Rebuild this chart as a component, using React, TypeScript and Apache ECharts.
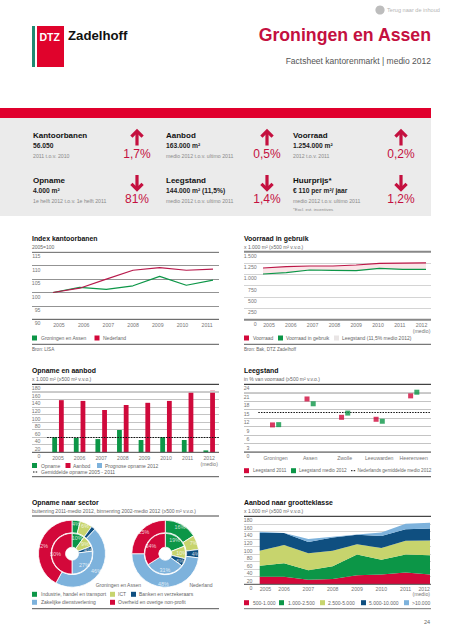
import React, { useEffect, useRef } from "react";
import * as echarts from "echarts";

const FONT = "Liberation Sans";
const RED = "#d3083a";
const BARRED = "#cf0a3c";
const TITLERED = "#c4103f";
const GREEN = "#0c9647";
const ICT = "#c7d46d";
const NAVY = "#0f4f80";
const BLUE = "#7db2dc";
const PINK = "#f9dade";
const GREY = "#767676";

const indexYears = ["2005", "2006", "2007", "2008", "2009", "2010", "2011"];
const indexGroningen = [100, 101.9, 101.2, 102.5, 106, 102.7, 104.6];
const indexNederland = [100, 101.6, 105, 108.3, 109.3, 108.3, 108.7];

const stockYears = ["2005", "2006", "2007", "2008", "2009", "2010", "2011", "2012\n(medio)"];
const stockTotal = [1140, 1170, 1185, 1185, 1207, 1244, 1250, 1254];
const stockInUse = [1008, 1037, 1096, 1089, 1081, 1133, 1111, 1110];

const opname = [40, 38, 35, 59, 32.5, 40, 32.5, 5];
const aanbod = [138, 136, 112, 125, 131, 136, 162, 163];
const opnameAverage = 40;

const cities = ["Groningen", "Assen", "Zwolle", "Leeuwarden", "Heerenveen"];
const vacancy2011 = [9.6, 18.8, 12.3, 11.6, 19.9];
const vacancy2012 = [9.7, 17.1, 13.8, 10.9, 21.2];
const vacancyNl = 14.2;

const sectors = ["Industrie, handel en transport", "ICT", "Banken en verzekeraars", "Zakelijke dienstverlening", "Overheid en overige non-profit"];
const sectorColors = [GREEN, ICT, NAVY, BLUE, RED];
const groningenOuter = [4, 6, 2, 46, 42];
const groningenInner = [10, 9, 4, 27, 50];
const nederlandOuter = [16, 7, 4, 48, 25];
const nederlandInner = [19, 10, 6, 31, 34];

const sizeNames = ["500-1.000", "1.000-2.500", "2.500-5.000", "5.000-10.000", ">10.000"];
const size500 = [20, 20, 12, 14, 24, 26, 31, 26];
const size1000 = [29, 36, 25, 34, 55, 39, 48, 51];
const size2500 = [40, 48, 45, 41, 27, 31, 36, 39];
const size5000 = [47, 32, 30, 35, 25, 32, 31, 32];
const size10000 = [3, 0, 8, 2, 1, 9, 14, 15];

const LX = 32, RX = 244, LW = 187;

const graphics: any[] = [];
const T = (x: number, y: number, text: string, size: number, fill = GREY, fontWeight: any = "normal", align: any = "left") =>
  graphics.push({ type: "text", x, y, silent: true, style: { text, fill, font: `${fontWeight} ${size}px "${FONT}"`, align, verticalAlign: "middle" } });
const R = (x: number, y: number, w: number, h: number, fill: string) =>
  graphics.push({ type: "rect", silent: true, shape: { x, y, width: w, height: h }, style: { fill } });
const L = (x1: number, y: number, x2: number, stroke: string, lineWidth = 1, lineDash?: number[]) =>
  graphics.push({ type: "line", silent: true, z: 5, shape: { x1, y1: y, x2, y2: y }, style: { stroke, lineWidth, lineDash } });
const swatch = (x: number, y: number, color: string, label: string, tx: number, size = 5) => {
  R(x, y - 2.5, 5, 5, color);
  T(tx, y, label, size, "#666");
};
const arrow = (x: number, top: number, up: boolean) => {
  const h = 15.5, tip = up ? top : top + h, dir = up ? 1 : -1;
  graphics.push({ type: "line", silent: true, shape: { x1: x, y1: tip + dir * 2, x2: x, y2: tip + dir * h }, style: { stroke: TITLERED, lineWidth: 3.2 } });
  graphics.push({ type: "polyline", silent: true, shape: { points: [[x - 5.6, tip + dir * 6.6], [x, tip + dir * 1], [x + 5.6, tip + dir * 6.6]] }, style: { stroke: TITLERED, lineWidth: 3.2, fill: "none" } });
};
const kpi = (x: number, y: number, head: string, val: string, note: string, ax: number, pct: string, up: boolean) => {
  T(x, y, head, 8, "#111", "bold");
  T(x, y + 10.5, val, 6.7, "#222", "bold");
  T(x, y + 21, note, 5.2, "#8a8a8a");
  arrow(ax, y - 5, up);
  T(ax, y + 19, pct, 12, TITLERED, "normal", "center");
};
const heading = (x: number, y: number, title: string, sub: string) => {
  T(x, y, title, 6.9, "#111", "bold");
  T(x, y + 8.6, sub, 5, "#666");
};

R(32, 26, 3, 41, "#1f8a72");
R(37, 26, 27, 41, "#e0032c");
T(39.5, 37, "DTZ", 10.5, "#fff", "bold");
T(68, 35.5, "Zadelhoff", 13.2, "#111", "bold");
T(431, 35, "Groningen en Assen", 17.7, TITLERED, "bold", "right");
T(431, 61, "Factsheet kantorenmarkt | medio 2012", 8.5, "#555", "normal", "right");
graphics.push({ type: "circle", silent: true, shape: { cx: 380, cy: 10, r: 4.6 }, style: { fill: "#bdbdbd" } });
T(387, 10, "Terug naar de inhoud", 5.6, "#b5b5b5");

R(0, 108, 431, 10, "#e0002d");
R(0, 118, 431, 98, "#ebebeb");
kpi(33, 135, "Kantoorbanen", "56.050", "2011 t.o.v. 2010", 137, "1,7%", true);
kpi(166, 135, "Aanbod", "163.000 m²", "medio 2012 t.o.v. ultimo 2011", 267, "0,5%", true);
kpi(293, 135, "Voorraad", "1.254.000 m²", "2012 t.o.v. 2011", 401, "0,2%", true);
kpi(33, 180, "Opname", "4.000 m²", "1e helft 2012 t.o.v. 1e helft 2011", 137, "81%", false);
kpi(166, 180, "Leegstand", "144.000 m² (11,5%)", "medio 2012 t.o.v. ultimo 2011", 267, "1,4%", false);
kpi(293, 180, "Huurprijs*", "€ 110 per m²/ jaar", "medio 2012 t.o.v. ultimo 2011", 401, "1,2%", false);
T(293, 209, "*Excl. evt. incentives", 4.4, "#8a8a8a");

heading(LX, 238, "Index kantoorbanen", "2005=100");
swatch(LX, 338, GREEN, "Groningen en Assen", 41);
swatch(94.5, 338, RED, "Nederland", 103);
L(LX, 344.3, LX + LW, "#444", 0.9);
T(LX, 349.3, "Bron: LISA", 4.6, "#666");

heading(RX, 238, "Voorraad in gebruik", "x 1.000 m² (≥500 m² v.v.o.)");
swatch(RX, 338, RED, "Voorraad", 253);
swatch(278, 338, GREEN, "Voorraad in gebruik", 286);
swatch(334, 338, "#e9e5e5", "Leegstand (11,5% medio 2012)", 342);
L(RX, 344.3, RX + LW, "#444", 0.9);
T(RX, 349.3, "Bron: Bak, DTZ Zadelhoff", 4.6, "#666");

heading(LX, 370, "Opname en aanbod", "x 1.000 m² (≥500 m² v.v.o.)");
swatch(LX, 465.5, GREEN, "Opname", 41);
swatch(65.5, 465.5, RED, "Aanbod", 73);
swatch(97, 465.5, BLUE, "Prognose opname 2012", 105);
L(33, 472, 38, "#111", 1, [1.5, 1.2]);
T(41, 472, "Gemiddelde opname 2005 - 2011", 5, "#666");
L(LX, 476.7, LX + LW, "#555", 1);

heading(RX, 370, "Leegstand", "in % van voorraad (≥500 m² v.v.o.)");
swatch(RX, 470.7, RED, "Leegstand 2011", 253, 4.7);
swatch(291, 470.7, GREEN, "Leegstand medio 2012", 299, 4.7);
L(351, 470.7, 356, "#111", 1, [1.5, 1.2]);
T(357.5, 470.7, "Nederlands gemiddelde medio 2012", 4.6, "#666");
L(RX, 476.7, RX + LW, "#666", 1.2);

heading(LX, 502.3, "Opname naar sector", "buitenring 2011-medio 2012, binnenring 2002-medio 2012 (≥500 m² v.v.o.)");
L(LX, 516, LX + LW, "#444", 1);
T(141, 585, "Groningen en Assen", 5, "#666", "normal", "right");
T(212.5, 585, "Nederland", 5, "#666", "normal", "right");
swatch(LX, 594.3, GREEN, sectors[0], 41);
swatch(110, 594.3, ICT, sectors[1], 118);
swatch(131, 594.3, NAVY, sectors[2], 139);
swatch(LX, 602.3, BLUE, sectors[3], 41);
swatch(110, 602.3, RED, sectors[4], 118);
L(LX, 608.7, LX + LW, "#555", 1);

heading(RX, 502.3, "Aanbod naar grootteklasse", "x 1.000 m² (≥500 m² v.v.o.)");
swatch(RX, 602.7, RED, sizeNames[0], 253);
swatch(279, 602.7, GREEN, sizeNames[1], 288);
swatch(320, 602.7, ICT, sizeNames[2], 328);
swatch(361, 602.7, NAVY, sizeNames[3], 369);
swatch(404, 602.7, BLUE, sizeNames[4], 412);
L(RX, 608.7, RX + LW, "#777", 1);
T(430, 622, "24", 5.5, "#666", "normal", "right");

L(LX, 252.3, LX + LW, "#777", 0.9);
L(LX, 319.3, LX + LW, "#666", 1);
L(RX, 251.7, RX + LW, "#888", 2);
L(RX, 319.7, RX + LW, "#888", 2);
L(LX, 384.3, LX + LW, "#222", 1);
L(LX, 391.9, LX + LW, "#ccc", 1.6);
L(LX, 452.3, LX + LW, "#555", 1);
L(RX, 384.3, RX + LW, "#222", 1);
L(RX, 392.7, RX + LW, "#ccc", 1.6);
L(RX, 452, RX + LW, "#555", 1);
L(RX, 516.3, RX + LW, "#222", 1);
L(RX, 584.3, RX + LW, "#555", 1);

const grids: any[] = [];
const xAxes: any[] = [];
const yAxes: any[] = [];
const series: any[] = [];
const dots = (v: number) => String(v).replace(/\B(?=(\d{3})+$)/g, ".");

const hiddenY = (gridIndex: number, min: number, max: number) => ({ gridIndex, type: "value", min, max, show: false });
const catAxisLabel = { fontFamily: FONT, fontSize: 5.2, color: GREY, margin: 3, lineHeight: 5.5, interval: 0, hideOverlap: false };

function frame(left: number, top: number, height: number, min: number, max: number, interval: number, lineColor: string, labelEdge: number, fmt?: (v: number) => string) {
  const g = grids.length;
  grids.push({ left, top, width: LW, height, containLabel: false });
  xAxes.push({ gridIndex: g, type: "value", min: 0, max: 1, show: false });
  yAxes.push({
    gridIndex: g, type: "value", min, max, interval,
    axisLine: { show: false }, axisTick: { show: false },
    splitLine: { show: true, lineStyle: { color: lineColor, width: 0.8 } },
    axisLabel: { inside: true, margin: labelEdge - left, align: "right", verticalAlign: "top", fontFamily: FONT, fontSize: 5.2, color: GREY, padding: [1.5, 0, 0, 0], formatter: fmt },
  });
}
function plot(left: number, width: number, top: number, height: number, min: number, max: number, data: string[], boundaryGap: boolean, showLabels: boolean, extra: any = {}) {
  const g = grids.length;
  grids.push({ left, top, width, height, containLabel: false });
  xAxes.push({
    gridIndex: g, type: "category", data, boundaryGap,
    axisLine: { show: false }, axisTick: { show: false }, splitLine: { show: false },
    axisLabel: { ...catAxisLabel, show: showLabels, ...extra },
  });
  yAxes.push(hiddenY(g, min, max));
  return g;
}
const lineS = (g: number, name: string, data: number[], color: string, extra: any = {}) =>
  series.push({ type: "line", name, xAxisIndex: g, yAxisIndex: g, data, symbol: "none", lineStyle: { color, width: 1.2 }, ...extra });

frame(LX, 252.3, 67, 90, 115, 5, "#777", 40.5);
const g1 = plot(53, 160, 252.3, 67, 90, 115, indexYears, false, false);
lineS(g1, "Groningen en Assen", indexGroningen, GREEN);
lineS(g1, "Nederland", indexNederland, "#b81a4c");
plot(46.6, 172.9, 252.3, 67, 90, 115, indexYears, true, true);

frame(RX, 251.7, 68, 0, 1500, 250, "#c9c9c9", 256.7, dots);
const g2 = plot(263, 163, 251.7, 68, 0, 1500, stockYears, false, false);
lineS(g2, "Basis", stockInUse, "transparent", { stack: "s", lineStyle: { width: 0 }, areaStyle: { color: "transparent" } });
lineS(g2, "Leegstand", stockTotal.map((v, i) => v - stockInUse[i]), "transparent", { stack: "s", lineStyle: { width: 0 }, areaStyle: { color: PINK } });
lineS(g2, "Voorraad", stockTotal, "#bb1646");
lineS(g2, "Voorraad in gebruik", stockInUse, GREEN);
plot(258.1, 174.4, 251.7, 68, 0, 1500, stockYears, true, true);

frame(LX, 384.3, 68, 0, 180, 20, "#b5b5b5", 40.5);
const g3 = plot(47.2, 172.8, 384.3, 68, 0, 180, stockYears, true, true);
series.push({
  type: "bar", name: "Opname", xAxisIndex: g3, yAxisIndex: g3, data: opname, barWidth: 4.8, barGap: "40%", itemStyle: { color: GREEN },
  markLine: { silent: true, symbol: "none", label: { show: false }, lineStyle: { color: "#111", width: 1, type: [1.5, 1.2] }, data: [{ yAxis: opnameAverage }] },
});
series.push({ type: "bar", name: "Aanbod", xAxisIndex: g3, yAxisIndex: g3, data: aanbod, barWidth: 4.8, barGap: "40%", itemStyle: { color: BARRED } });

frame(RX, 384.3, 67.7, 0, 24, 3, "#b5b5b5", 249.5);
const g4 = plot(258.3, 172.7, 384.3, 67.7, 0, 24, cities, true, true);
const sq = (name: string, data: number[], color: string, dx: number, extra: any = {}) =>
  series.push({ type: "scatter", name, xAxisIndex: g4, yAxisIndex: g4, data, symbol: "rect", symbolSize: 5, symbolOffset: [dx, 0], itemStyle: { color }, z: 6, ...extra });
sq("Leegstand 2011", vacancy2011, BARRED, -3.1, {
  markLine: { silent: true, symbol: "none", label: { show: false }, lineStyle: { color: "#111", width: 1, type: [1.5, 1.2] }, data: [{ yAxis: vacancyNl }] },
});
sq("Leegstand medio 2012", vacancy2012, GREEN, 3.1);

frame(RX, 516.3, 68, 0, 180, 20, "#c9c9c9", 252.5);
const g6 = plot(259.7, 170.3, 516.3, 68, 0, 180, stockYears, false, true, { alignMinLabel: "left", alignMaxLabel: "right", margin: 1.5 });
[size500, size1000, size2500, size5000, size10000].forEach((d, i) =>
  lineS(g6, sizeNames[i], d, "transparent", { stack: "size", lineStyle: { width: 0 }, areaStyle: { color: [RED, GREEN, ICT, NAVY, BLUE][i], opacity: 1 } }),
);

const pie = (cx: number, values: number[], radius: number[]) =>
  series.push({
    type: "pie", center: [cx, 553.7], radius, startAngle: 90, clockwise: true, silent: true,
    data: values.map((value, i) => ({ value, name: sectors[i], itemStyle: { color: sectorColors[i] } })),
    itemStyle: { borderColor: "#fff", borderWidth: 0.8 },
    label: { show: true, position: "inner", formatter: "{c}%", fontFamily: FONT, fontSize: 5.4, color: "rgba(255,255,255,0.78)" },
    labelLine: { show: false },
  });
pie(72, groningenOuter, [21, 33.5]);
pie(72, groningenInner, [6.5, 20.4]);
pie(165.3, nederlandOuter, [21, 33.5]);
pie(165.3, nederlandInner, [6.5, 20.4]);

export default function App() {
  const ref = useRef<HTMLDivElement>(null);
  useEffect(() => {
    document.body.style.margin = "0";
    const chart = echarts.init(ref.current!, null, { renderer: "svg" });
    chart.setOption({
      animation: false,
      backgroundColor: "#fff",
      textStyle: { fontFamily: FONT },
      grid: grids,
      xAxis: xAxes,
      yAxis: yAxes,
      series,
      graphic: { elements: graphics },
    });
    return () => chart.dispose();
  }, []);
  return <div ref={ref} style={{ width: 453, height: 640 }} />;
}
